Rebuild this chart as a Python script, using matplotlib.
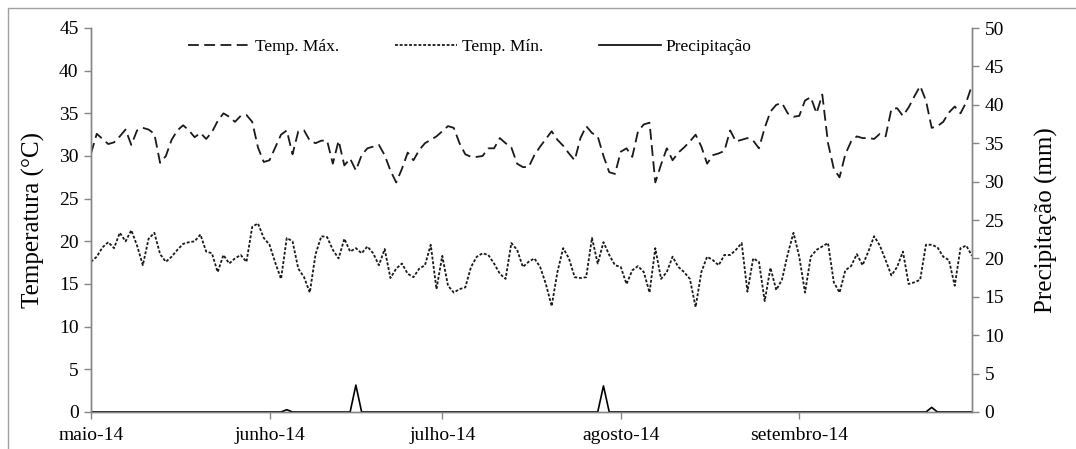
import numpy as np
import pandas as pd
import matplotlib
matplotlib.use("Agg")
import matplotlib.pyplot as plt
from matplotlib.patches import Rectangle

plt.rcParams['font.family'] = ['Liberation Serif', 'DejaVu Serif']

# daily series, 01/05/2014 .. 01/10/2014
start_date = '2014-05-01'
n_days = 154

temp_max = [
    # maio
    30.3, 32.6, 32.0, 31.4, 31.6, 32.3, 33.1, 31.3, 33.0, 33.3,
    33.1, 32.6, 29.2, 30.0, 31.9, 33.0, 33.6, 33.0, 32.2, 32.7,
    32.0, 32.8, 34.1, 35.0, 34.6, 34.0, 34.7, 34.8, 34.0, 31.0,
    29.3,
    # junho
    29.5, 31.0, 32.5, 33.0, 30.2, 32.9, 33.0, 31.8, 31.5, 31.8,
    31.8, 29.1, 31.8, 28.9, 29.7, 28.3, 30.1, 30.9, 31.1, 31.3,
    30.1, 28.3, 26.9, 28.5, 30.4, 29.5, 30.7, 31.5, 31.9, 32.3,
    # julho
    32.9, 33.5, 33.3, 31.5, 30.2, 29.9, 29.9, 30.0, 30.9, 30.9,
    32.1, 31.5, 31.0, 29.1, 28.7, 28.7, 30.1, 31.1, 32.0, 32.9,
    31.9, 31.2, 30.3, 29.5, 32.1, 33.5, 32.7, 32.3, 30.0, 28.1,
    27.9,
    # agosto
    30.5, 30.9, 29.9, 32.9, 33.7, 33.9, 26.9, 29.0, 30.9,
    29.5, 30.4, 31.0, 31.7, 32.5, 31.1, 29.1, 30.1, 30.3, 30.6,
    33.0, 31.7, 31.9, 32.1, 31.8, 30.9, 33.3, 35.2, 36.0, 36.2,
    35.0, 34.6,
    # setembro
    34.7, 36.5, 36.9, 35.0, 37.2, 31.5, 28.5, 27.5,
    30.2, 31.7, 32.3, 32.1, 32.1, 32.0, 32.6, 32.3, 35.5, 35.6,
    34.7, 35.7, 37.0, 38.2, 36.5, 33.3, 33.5, 34.0, 35.1, 35.8,
    35.0, 36.3,
    # outubro
    38.3,
]

temp_min = [
    # maio
    17.6, 18.2, 19.3, 19.9, 19.2, 21.0, 20.0, 21.3, 19.5, 17.2,
    20.3, 21.0, 18.5, 17.6, 18.2, 19.0, 19.7, 19.9, 20.0, 20.8,
    18.8, 18.6, 16.4, 18.4, 17.4, 18.0, 18.4, 17.6, 21.7, 22.1,
    20.4,
    # junho
    19.6, 17.5, 15.6, 20.4, 20.0, 16.8, 15.8, 14.0, 18.5, 20.6,
    20.5, 19.0, 18.0, 20.3, 18.8, 19.2, 18.6, 19.4, 18.6, 17.2,
    19.1, 15.7, 16.8, 17.4, 16.2, 15.8, 16.8, 17.2, 19.6, 14.4,
    # julho
    18.3, 14.8, 14.0, 14.4, 14.6, 17.0, 18.2, 18.6, 18.4, 17.4,
    16.2, 15.6, 19.8, 19.0, 17.0, 17.6, 18.0, 17.0, 15.0, 12.4,
    16.4, 19.2, 18.0, 15.8, 15.7, 15.8, 20.4, 17.4, 19.9, 18.4,
    17.2,
    # agosto
    17.0, 15.0, 16.6, 17.1, 16.4, 14.0, 19.2, 15.6, 16.4,
    18.2, 17.0, 16.4, 15.6, 12.3, 16.4, 18.2, 17.8, 17.2, 18.4,
    18.4, 19.0, 19.8, 14.1, 18.0, 17.6, 13.0, 16.9, 14.3, 15.5,
    18.5, 21.0,
    # setembro
    18.2, 14.0, 18.2, 19.0, 19.4, 19.8, 15.2, 14.0,
    16.6, 17.1, 18.5, 17.2, 18.8, 20.6, 19.5, 17.8, 16.0, 17.0,
    18.8, 15.0, 15.2, 15.5, 19.6, 19.6, 19.3, 18.2, 17.8, 14.8,
    19.2, 19.5,
    # outubro
    18.3,
]

# dias com chuva (mm), restante = 0
rain_dates = ['2014-06-04', '2014-06-16', '2014-07-29', '2014-09-24']
rain_mm = [0.3, 3.5, 3.4, 0.6]

month_ticks = ['2014-05-01', '2014-06-01', '2014-07-01', '2014-08-01', '2014-09-01']
month_labels = ['maio-14', 'junho-14', 'julho-14', 'agosto-14', 'setembro-14']

dates = pd.date_range(start_date, periods=n_days, freq='D')
precip = pd.Series(0.0, index=dates)
precip.loc[pd.to_datetime(rain_dates)] = rain_mm

fig = plt.figure(figsize=(10.76, 4.49), dpi=100)
ax = fig.add_axes([91 / 1076, 1 - 412 / 449, 881 / 1076, 384 / 449])
ax2 = ax.twinx()

l1, = ax.plot(dates, temp_max, color='#1a1a1a', lw=1.3, dashes=(6, 3), label='Temp. Máx.')
l2, = ax.plot(dates, temp_min, color='#1a1a1a', lw=1.3, dashes=(1.6, 1.0), label='Temp. Mín.')
l3, = ax2.plot(dates, precip.values, color='black', lw=1.2, label='Precipitação')

ax.set_xlim(dates[0], dates[-1])
ax.set_ylim(0, 45)
ax.set_yticks(np.arange(0, 46, 5))
ax2.set_ylim(0, 50)
ax2.set_yticks(np.arange(0, 51, 5))

ax.set_xticks(pd.to_datetime(month_ticks))
ax.set_xticklabels(month_labels)

grey = '#868686'
for a in (ax, ax2):
    a.spines['top'].set_visible(False)
    for s in ('left', 'right', 'bottom'):
        a.spines[s].set_color(grey)
        a.spines[s].set_linewidth(1.0)
    a.tick_params(axis='both', which='both', labelsize=14, color=grey,
                  length=5, width=1.0, labelcolor='black')
ax.tick_params(axis='x', pad=6)
ax.tick_params(axis='y', pad=4)
ax2.tick_params(axis='y', pad=4)

ax.set_ylabel('Temperatura (°C)', fontsize=18, labelpad=10)
ax2.set_ylabel('Precipitação (mm)', fontsize=18, labelpad=22)

ax.legend(handles=[l1, l2, l3], loc='center', bbox_to_anchor=(0.43, 0.95),
          ncol=3, frameon=False, fontsize=12.5, handlelength=3.6,
          handletextpad=0.25, columnspacing=3.2)

# moldura do gráfico
fig.patches.append(Rectangle((8 / 1076, -0.01), 1.1, 1 - 8 / 449 + 0.01,
                             transform=fig.transFigure, fill=False,
                             edgecolor='#a0a0a0', lw=1.0))

fig.savefig('out.png', dpi=100)
